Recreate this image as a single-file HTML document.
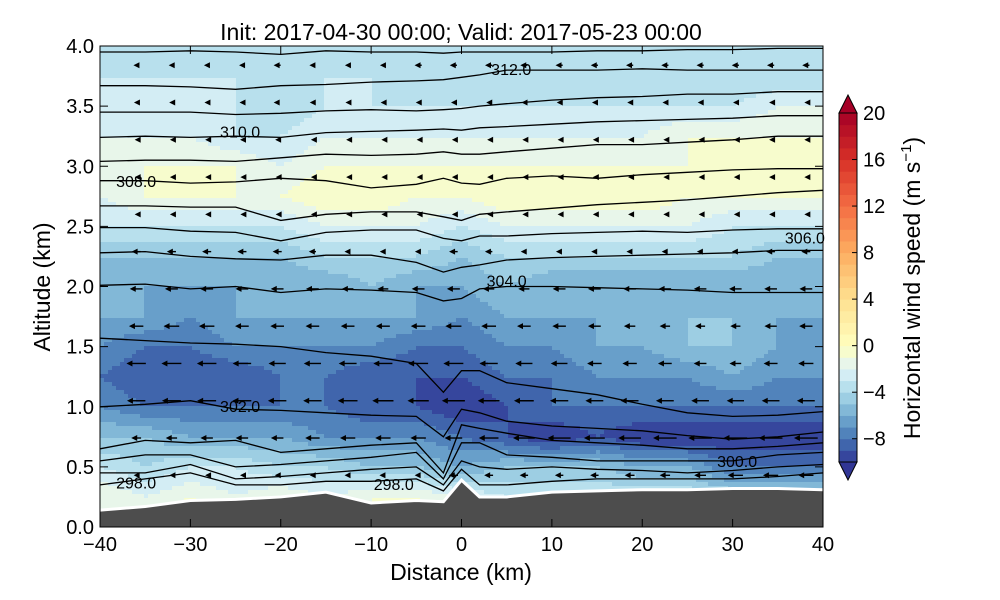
<!DOCTYPE html>
<html><head><meta charset="utf-8">
<style>
html,body{margin:0;padding:0;background:#fff;}
svg{display:block;font-family:"Liberation Sans","DejaVu Sans",sans-serif;}
</style></head>
<body>
<svg id="chart" width="1000" height="600" viewBox="0 0 1000 600" xmlns="http://www.w3.org/2000/svg">
<text x="461" y="40" font-size="23" text-anchor="middle">Init: 2017-04-30 00:00; Valid: 2017-05-23 00:00</text>
<g id="field"></g>
<g id="contours"></g>
<g id="arrows"></g>
<g id="terrain"></g>
<g id="axes"></g>
<g id="cbar"></g>
<text x="461" y="580" font-size="23" text-anchor="middle">Distance (km)</text>
<text transform="translate(50,287) rotate(-90)" font-size="23" text-anchor="middle">Altitude (km)</text>
<text transform="translate(920,288) rotate(-90)" font-size="23" text-anchor="middle">Horizontal wind speed (m s<tspan font-size="15" dy="-9">−1</tspan><tspan dy="9">)</tspan></text>
</svg>
<script>
// ---- data ----
const gridDist = [-40,-35,-30,-25,-20,-15,-10,-5,0,5,10,15,20,25,30,35,40];
const gridAlt = [0,0.25,0.5,0.75,1.0,1.25,1.5,1.75,2.0,2.25,2.5,2.75,3.0,3.25,3.5,3.75,4.0];
const speedRows = [
 [-1,-1,0,-1,0,-1,-1,0,-2,-3,-3,-3,-3,-3,-3,-3,-3],
 [-1,-2,-1,-2,-1,-2,-1,-1,-2,-3,-3,-3,-3,-3,-4,-4,-4],
 [-3,-4,-3,-3,-4,-4,-5,-5,-6,-5,-5,-5,-6,-6,-8,-8,-8],
 [-5,-5,-6,-6,-6,-7,-7,-7,-8,-9,-10,-9,-10,-10,-10,-10,-10],
 [-7,-8,-8,-8,-8,-8,-9,-9,-10,-9,-8,-8,-8,-8,-8,-8,-8],
 [-8,-9,-9,-9,-8,-8,-9,-9,-9,-8,-8,-7,-7,-7,-6,-7,-7],
 [-7,-8,-8,-7,-7,-7,-7,-8,-8,-7,-7,-6,-6,-5,-5,-6,-7],
 [-6,-6,-7,-6,-6,-6,-6,-6,-7,-6,-6,-6,-5,-5,-5,-6,-6],
 [-6,-6,-6,-6,-6,-6,-5,-6,-6,-5,-6,-6,-6,-6,-6,-6,-6],
 [-5,-5,-5,-5,-5,-4,-4,-4,-5,-4,-4,-4,-4,-4,-4,-5,-5],
 [-3,-3,-3,-3,-3,-2,-2,-2,-3,-2,-2,-2,-2,-2,-3,-3,-3],
 [-2,-1,-1,-1,-1,0,0,-1,-1,0,0,0,0,-1,-1,-1,-1],
 [-2,-1,-1,-1,-2,-1,-1,-1,-1,-1,-1,-1,-1,-1,-1,0,0],
 [-2,-2,-2,-3,-3,-2,-2,-2,-2,-2,-2,-2,-2,-1,-1,-1,-1],
 [-3,-3,-3,-3,-4,-3,-3,-3,-3,-3,-3,-3,-3,-3,-3,-2,-2],
 [-3,-3,-3,-3,-4,-3,-3,-4,-4,-4,-4,-4,-4,-4,-4,-4,-4],
 [-4,-4,-4,-4,-4,-4,-4,-4,-4,-4,-4,-4,-4,-4,-4,-4,-4]
];
const lineDist = [-40,-35,-30,-25,-20,-15,-10,-5,-2,0,2,5,10,15,20,25,30,35,40];
const terrainAlt = [0.14,0.17,0.22,0.23,0.25,0.29,0.2,0.22,0.21,0.39,0.25,0.25,0.29,0.3,0.31,0.31,0.32,0.32,0.31];
const thetaLines = [
 [3.95,3.95,3.96,3.95,3.93,3.96,3.95,3.95,3.94,3.95,3.95,3.95,3.95,3.96,3.96,3.97,3.97,3.98,3.98],
 [3.67,3.67,3.66,3.64,3.67,3.68,3.7,3.71,3.72,3.74,3.76,3.8,3.8,3.8,3.81,3.8,3.8,3.8,3.8],
 [3.45,3.45,3.45,3.43,3.44,3.46,3.47,3.46,3.47,3.48,3.5,3.52,3.55,3.57,3.58,3.6,3.6,3.62,3.62],
 [3.24,3.25,3.24,3.25,3.24,3.28,3.29,3.3,3.31,3.3,3.32,3.33,3.35,3.37,3.38,3.39,3.4,3.42,3.42],
 [3.04,3.05,3.05,3.04,3.07,3.1,3.09,3.1,3.12,3.1,3.1,3.12,3.15,3.18,3.18,3.2,3.22,3.25,3.25],
 [2.88,2.88,2.86,2.87,2.9,2.88,2.82,2.85,2.9,2.86,2.85,2.9,2.92,2.9,2.93,2.95,2.97,2.98,2.98],
 [2.67,2.67,2.66,2.66,2.55,2.6,2.62,2.62,2.58,2.55,2.6,2.62,2.65,2.68,2.7,2.72,2.75,2.78,2.8],
 [2.49,2.49,2.46,2.45,2.38,2.45,2.47,2.47,2.4,2.38,2.42,2.42,2.44,2.45,2.46,2.45,2.47,2.48,2.48],
 [2.28,2.29,2.25,2.23,2.22,2.26,2.26,2.2,2.12,2.16,2.18,2.22,2.24,2.25,2.26,2.27,2.28,2.3,2.3],
 [2.01,2.02,1.98,2.0,1.95,1.98,1.97,1.95,1.88,1.9,1.98,2.0,2.0,1.99,1.98,1.97,1.95,1.95,1.95],
 [1.57,1.55,1.53,1.52,1.5,1.45,1.42,1.36,1.12,1.3,1.3,1.2,1.15,1.1,1.02,0.95,0.92,0.93,0.96],
 [1.0,1.02,1.05,0.98,0.97,0.95,0.93,0.92,0.75,0.98,0.95,0.88,0.84,0.82,0.8,0.76,0.73,0.75,0.79],
 [0.65,0.72,0.7,0.72,0.62,0.65,0.68,0.7,0.45,0.85,0.82,0.78,0.72,0.7,0.68,0.65,0.65,0.67,0.7],
 [0.55,0.6,0.6,0.5,0.52,0.55,0.58,0.62,0.4,0.7,0.7,0.6,0.58,0.55,0.55,0.55,0.55,0.6,0.62],
 [0.45,0.45,0.52,0.4,0.42,0.45,0.48,0.5,0.35,0.55,0.5,0.48,0.5,0.48,0.47,0.45,0.47,0.5,0.52],
 [0.35,0.4,0.45,0.35,0.35,0.38,0.38,0.4,0.3,0.48,0.35,0.35,0.38,0.4,0.4,0.4,0.4,0.42,0.45]
];
const contourLabels = ["312.0","310.0","308.0","306.0","304.0","302.0","300.0","298.0","298.0"];
const labelDist = [5.5,-24.5,-36,38,5,-24.5,30.5,-36,-7.5];
const labelAlt = [3.8,3.28,2.87,2.4,2.04,1.0,0.54,0.36,0.35];
const xTicks = [-40,-30,-20,-10,0,10,20,30,40];
const yTicks = [0,0.5,1,1.5,2,2.5,3,3.5,4];
const cbTicks = [-8,-4,0,4,8,12,16,20];

// ---- scales ----
const X0=100,X1=823,Y0=46,Y1=527;
const sx = d => X0 + (d+40)/80*(X1-X0);
const sy = a => Y1 - a/4*(Y1-Y0);
const ns="http://www.w3.org/2000/svg";
function mk(tag, attrs, parent){const e=document.createElementNS(ns,tag);for(const k in attrs)e.setAttribute(k,attrs[k]);parent.appendChild(e);return e;}
const stops=[[0,[49,54,149]],[0.1,[69,117,180]],[0.2,[116,173,209]],[0.3,[171,217,233]],[0.4,[224,243,248]],[0.5,[255,255,191]],[0.6,[254,224,144]],[0.7,[253,174,97]],[0.8,[244,109,67]],[0.9,[215,48,39]],[1,[165,0,38]]];
function cmap(t){t=Math.max(0,Math.min(1,t));for(let i=1;i<stops.length;i++){if(t<=stops[i][0]){const a=stops[i-1],b=stops[i],f=(t-a[0])/(b[0]-a[0]);return 'rgb('+a[1].map((v,j)=>Math.round(v+(b[1][j]-v)*f)).join(',')+')';}}return 'rgb(165,0,38)';}
function levelColor(lv){const v=lv+0.5;const t=v<0?0.5+v/20:0.5+v/40;return cmap(t);}
function interp(xs,ys,x){if(x<=xs[0])return ys[0];for(let i=1;i<xs.length;i++){if(x<=xs[i]){const f=(x-xs[i-1])/(xs[i]-xs[i-1]);return ys[i-1]+(ys[i]-ys[i-1])*f;}}return ys[ys.length-1];}
function speedAt(d,a){
  const col=gridAlt.map((_,r)=>interp(gridDist,speedRows[r],d));
  return interp(gridAlt,col,a);
}

// ---- field ----
const field=document.getElementById('field');
const cs=4;
for(let py=Y0;py<Y1;py+=cs){
  const a=(Y1-(py+cs/2))/(Y1-Y0)*4;
  let runStart=X0,runLv=null;
  for(let px=X0;;px+=cs){
    const end=px>=X1;
    let lv=null;
    if(!end){const d=(px+cs/2-X0)/(X1-X0)*80-40;lv=Math.max(-10,Math.floor(speedAt(d,a)));}
    if(end||lv!==runLv){
      if(runLv!==null){
        const w=Math.min(px,X1)-runStart+(end?0:0.6);
        const r=mk('rect',{x:runStart,y:py,width:w,height:Math.min(cs+0.6,Y1-py),fill:levelColor(runLv)},field);
        
        
      }
      runStart=px;runLv=lv;
    }
    if(end)break;
  }
}

// ---- contours ----
const cg=document.getElementById('contours');
thetaLines.forEach((ln,i)=>{
  const pts=lineDist.map((d,j)=>sx(d).toFixed(1)+','+sy(Math.max(ln[j],interp(lineDist,terrainAlt,d)+0.03)).toFixed(1)).join(' ');
  const p=mk('polyline',{points:pts,fill:'none',stroke:'#000','stroke-width':1.3},cg);
  
  
});
contourLabels.forEach((t,i)=>{
  const tx=mk('text',{x:sx(labelDist[i]),y:sy(labelAlt[i])+5,'font-size':16,'text-anchor':'middle'},cg);
  tx.textContent=t;
  
  
});

// ---- arrows ----
const ag=document.getElementById('arrows');
for(let ay=0.12;ay<4;ay+=0.31){
  for(let d=-36;d<40;d+=3.9){
    const ter=interp(lineDist,terrainAlt,d);
    if(ay<ter+0.05)continue;
    const u=speedAt(d,ay);
    const L=Math.max(0,Math.abs(u)-2.5)*2.8+3;
    const x=sx(d),y=sy(ay);
    const g=mk('g',{},ag);
    
    
    if(L>7) mk('line',{x1:x+L/2,y1:y,x2:x-L/2+4,y2:y,stroke:'#000','stroke-width':1.4},g);
    mk('polygon',{points:(x-L/2)+','+y+' '+(x-L/2+6)+','+(y-3)+' '+(x-L/2+6)+','+(y+3),fill:'#000'},g);
  }
}

// ---- terrain ----
const tg=document.getElementById('terrain');
let tp=lineDist.map((d,j)=>sx(d)+','+sy(terrainAlt[j])).join(' ');
const poly=mk('polygon',{points:sx(-40)+','+Y1+' '+tp+' '+sx(40)+','+Y1,fill:'#4d4d4d',stroke:'none'},tg);


const edge=mk('polyline',{points:tp,fill:'none',stroke:'#fff','stroke-width':3},tg);



// ---- axes ----
const ax=document.getElementById('axes');
const frame=mk('rect',{x:X0,y:Y0,width:X1-X0,height:Y1-Y0,fill:'none',stroke:'#000','stroke-width':1},ax);


xTicks.forEach(v=>{
  const x=sx(v);
  mk('line',{x1:x,y1:Y1,x2:x,y2:Y1-8,stroke:'#000'},ax);
  mk('line',{x1:x,y1:Y0,x2:x,y2:Y0+8,stroke:'#000'},ax);
  const t=mk('text',{x:x,y:Y1+24,'font-size':20,'text-anchor':'middle'},ax);
  t.textContent=v<0?'−'+(-v):String(v);
  
  
});
yTicks.forEach(v=>{
  const y=sy(v);
  mk('line',{x1:X0,y1:y,x2:X0+8,y2:y,stroke:'#000'},ax);
  mk('line',{x1:X1,y1:y,x2:X1-8,y2:y,stroke:'#000'},ax);
  const t=mk('text',{x:X0-6,y:y+7,'font-size':20,'text-anchor':'end'},ax);
  t.textContent=v.toFixed(1);
  
  
});

// ---- colorbar ----
const cb=document.getElementById('cbar');
const CX0=839,CX1=857,CT=113,CB=462;
const cy=v=>CB-(v+10)/30*(CB-CT);
for(let lv=-10;lv<20;lv++){
  const r=mk('rect',{x:CX0,y:cy(lv+1),width:CX1-CX0,height:cy(lv)-cy(lv+1)+0.5,fill:levelColor(lv)},cb);
  
  
}
const tt=mk('polygon',{points:CX0+','+CT+' '+(CX0+CX1)/2+','+(CT-18)+' '+CX1+','+CT,fill:levelColor(20),stroke:'#000','stroke-width':1},cb);


const tb=mk('polygon',{points:CX0+','+CB+' '+(CX0+CX1)/2+','+(CB+18)+' '+CX1+','+CB,fill:levelColor(-11),stroke:'#000','stroke-width':1},cb);


mk('rect',{x:CX0,y:CT,width:CX1-CX0,height:CB-CT,fill:'none',stroke:'#000','stroke-width':1},cb);
cbTicks.forEach(v=>{
  const y=cy(v);
  mk('line',{x1:CX1-5,y1:y,x2:CX1,y2:y,stroke:'#000'},cb);
  const t=mk('text',{x:CX1+6,y:y+7,'font-size':20},cb);
  t.textContent=v<0?'−'+(-v):String(v);
  
  
});
</script>
</body></html>
